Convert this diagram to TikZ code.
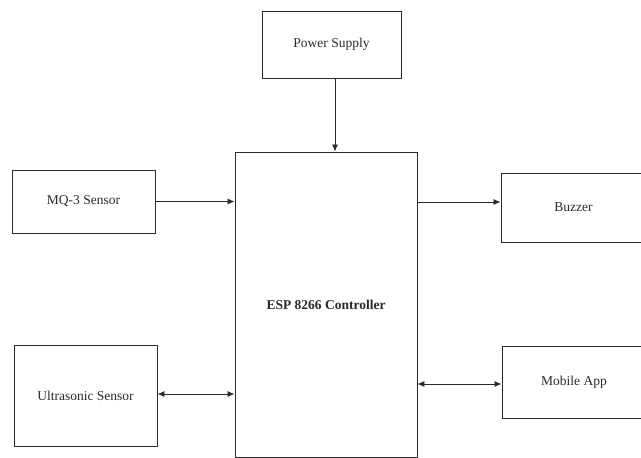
\documentclass[tikz,border=0pt]{standalone}
\usepackage{fontspec}
\setmainfont{Liberation Serif}
\usetikzlibrary{arrows.meta}
\definecolor{ink}{HTML}{2A2A2A}
\begin{document}
\begin{tikzpicture}[x=1pt,y=-1pt,
  blk/.style={draw=ink,line width=0.95pt,fill=white,rectangle,inner sep=0pt,
    font=\fontsize{13.5}{15}\selectfont,text=ink},
  conn/.style={draw=ink,line width=0.9pt},
  tip/.tip={Latex[length=7pt,width=6pt]}]
\clip (0,0) rectangle (641,458);
\fill[white] (0,0) rectangle (641,458);
\node[blk,minimum width=139pt,minimum height=67pt] (power) at (331.5,44.5) {Power Supply};
\node[blk,minimum width=182pt,minimum height=305pt,font=\fontsize{13.5}{15}\selectfont\bfseries] (esp) at (326,304.5) {ESP 8266 Controller};
\node[blk,minimum width=143pt,minimum height=63pt] (mq) at (83.5,201.5) {MQ-3 Sensor};
\node[blk,minimum width=145pt,minimum height=69pt] (buzzer) at (573.5,207.5) {Buzzer};
\node[blk,minimum width=143pt,minimum height=101pt] (ultra) at (85.5,395.5) {Ultrasonic Sensor};
\node[blk,minimum width=144pt,minimum height=72pt] (mobile) at (574,382) {Mobile App};
\draw[conn,-tip] ([xshift=3.5pt]power.south) -- ([xshift=3.5pt]power.south |- esp.north);
\draw[conn,-tip] (mq.east) -- (mq.east -| esp.west);
\draw[conn,-tip] ([yshift=5.5pt]buzzer.west -| esp.east) -- ([yshift=5.5pt]buzzer.west);
\draw[conn,tip-tip] ([yshift=1.5pt]ultra.east) -- ([yshift=1.5pt]ultra.east -| esp.west);
\draw[conn,tip-tip] ([yshift=-2pt]mobile.west -| esp.east) -- ([yshift=-2pt]mobile.west);
\end{tikzpicture}
\end{document}
